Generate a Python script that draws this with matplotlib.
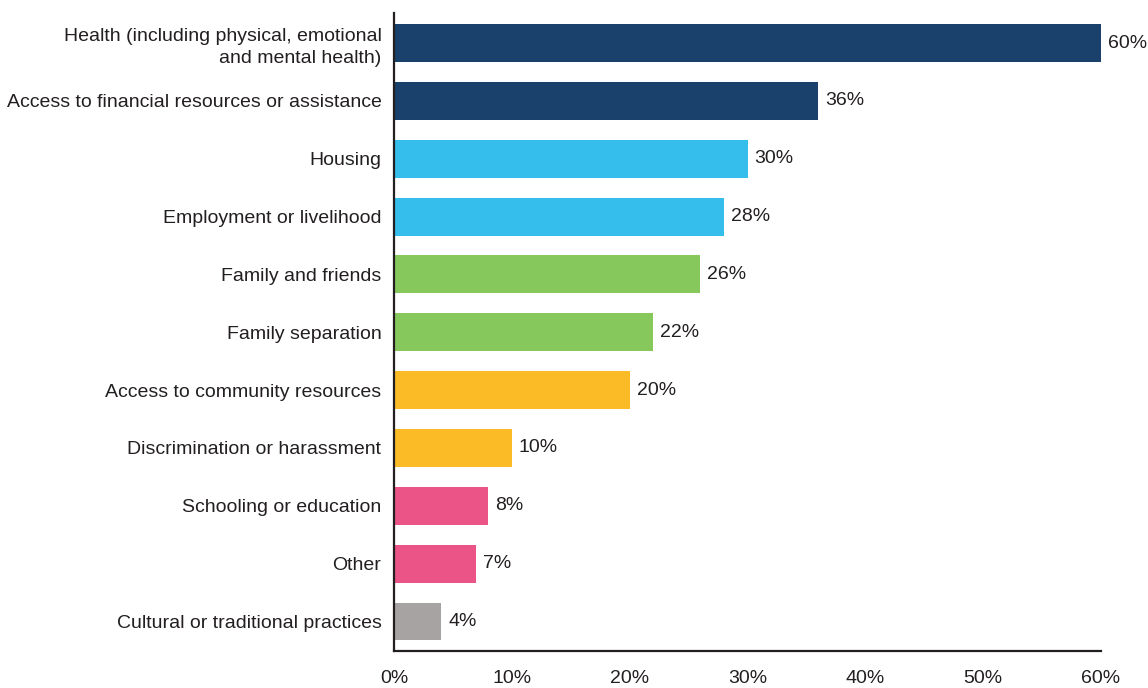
import matplotlib.pyplot as plt
from matplotlib.ticker import PercentFormatter

# data
categories = [
    "Health (including physical, emotional\nand mental health)",
    "Access to financial resources or assistance",
    "Housing",
    "Employment or livelihood",
    "Family and friends",
    "Family separation",
    "Access to community resources",
    "Discrimination or harassment",
    "Schooling or education",
    "Other",
    "Cultural or traditional practices",
]
values = [60, 36, 30, 28, 26, 22, 20, 10, 8, 7, 4]
colors = ["#1a416c", "#1a416c", "#35bdec", "#35bdec", "#86c85b", "#86c85b",
          "#fbbb26", "#fbbb26", "#ea5486", "#ea5486", "#a7a3a3"]
xticks = [0, 10, 20, 30, 40, 50, 60]

txt = "#231f20"
fs = 14.0
plt.rcParams['font.family'] = ['Liberation Sans Narrow', 'Liberation Sans', 'DejaVu Sans']

fig = plt.figure(figsize=(11.48, 6.88), dpi=100)
ax = fig.add_axes([0.3432, 0.0538, 0.6159, 0.9273])

pos = list(range(len(categories)))
ax.barh(pos, values, height=0.656, color=colors)
for p, v in zip(pos, values):
    ax.annotate(f"{v}%", (v, p), xytext=(5, 0), textcoords="offset points",
                va="center", ha="left", fontsize=fs, color=txt)

ax.set_ylim(10.51, -0.52)
ax.set_xlim(0, 60)
ax.set_yticks(pos)
ax.set_yticklabels(categories, fontsize=fs, color=txt, linespacing=1.35)
ax.set_xticks(xticks)
ax.xaxis.set_major_formatter(PercentFormatter(decimals=0))
ax.tick_params(axis='x', length=0, pad=14, labelsize=fs, labelcolor=txt)
ax.tick_params(axis='y', length=0, pad=9)
for s in ['top', 'right']:
    ax.spines[s].set_visible(False)
for s in ['left', 'bottom']:
    ax.spines[s].set_linewidth(1.6)
    ax.spines[s].set_color(txt)

fig.savefig("out.png", dpi=100)
